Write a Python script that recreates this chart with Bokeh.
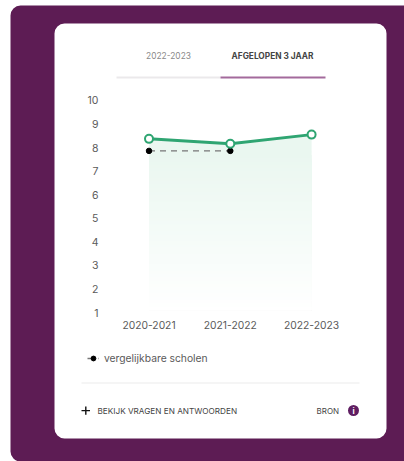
from bokeh.plotting import figure
from bokeh.embed import file_html
from bokeh.resources import INLINE
from bokeh.models import BoxAnnotation, Label, Legend, LegendItem, FixedTicker, Range1d, LinearAxis

years = ["2020-2021", "2021-2022", "2022-2023"]
school = [8.37, 8.16, 8.55]
similar = [7.86, 7.86]
y_ticks = [1, 2, 3, 4, 5, 6, 7, 8, 9, 10]

FONT = "Inter"
PURPLE = "#5d1c54"
GREEN = "#2fa572"
W, H = 404, 461
PX_X, PX_Y = 81.3, 23.56     # pixels per category / per score point
X0, Y1 = 148.5, 312.0        # picture position of the first category and of score 1

def dx(px):
    return (px - X0) / PX_X

def dy(py):
    return 1 + (Y1 - py) / PX_Y

xs = list(range(len(years)))
p = figure(width=W, height=H, output_backend="svg", toolbar_location=None,
           x_range=Range1d(dx(0), dx(W)), y_range=Range1d(dy(H), dy(0)),
           x_axis_location=None, y_axis_location=None,
           min_border=0, outline_line_color=None, background_fill_color="white", border_fill_color="white")
p.grid.visible = False

def box(l, t, r, b, color, radius=0):
    p.add_layout(BoxAnnotation(left=dx(l), right=dx(r), top=dy(t), bottom=dy(b),
                               fill_color=color, fill_alpha=1, line_color=None, level="underlay",
                               border_radius=radius, editable=False))

def label(x, y, text, size, color, align="left", style="normal"):
    p.add_layout(Label(x=dx(x), y=dy(y), text=text,
                       text_font=FONT, text_font_size=f"{size}px", text_color=color,
                       text_align=align, text_baseline="middle", text_font_style=style))

box(10, 5, 430, 461, PURPLE, 10)
box(54, 23, 386, 438, "white", 10)
box(116, 76, 220, 78, "#ebe9eb")
box(220, 76, 325, 78, "#a36a9c")
box(81, 382, 359, 383, "#ececec")
box(347.5, 404.5, 358.5, 415.5, "#5f1e62", 6)
box(81, 409.4, 89.5, 410.8, "#111111")
box(84.6, 405.9, 86, 414.3, "#111111")

label(168, 55, "2022-2023", 8.4, "#8a8a8a", "center")
label(272, 55, "AFGELOPEN 3 JAAR", 8.3, "#444444", "center", "bold")
label(97, 410, "BEKIJK VRAGEN EN ANTWOORDEN", 8.2, "#444444")
label(316, 410, "BRON", 8, "#444444")
label(353, 410, "i", 8, "white", "center", "bold")

# gradient under the school line
top_band = 7.8
bottom_band = 1.1
top_color = (0xea, 0xf7, 0xf0)
p.varea(x=xs, y1=[top_band] * 3, y2=school, fill_color="#eaf7f0")
steps = 48
for k in range(steps):
    f = 1 - k / steps
    t = bottom_band + (top_band + 0.02 - bottom_band) * f
    col = "#%02x%02x%02x" % tuple(round(a * f + 255 * (1 - f)) for a in top_color)
    p.quad(left=[xs[0]], right=[xs[-1]], bottom=[bottom_band], top=[t], fill_color=col, line_color=None)

dash = p.line(xs[:2], similar, line_color="#777777", line_width=1.4, line_dash="6 5")
dots = p.scatter(xs[:2], similar, size=5.5, fill_color="black", line_color="black")
p.line(xs, school, line_color=GREEN, line_width=3)
p.scatter(xs, school, size=8, fill_color="white", line_color=GREEN, line_width=2)

yax = LinearAxis(ticker=FixedTicker(ticks=y_ticks), fixed_location=dx(108))
xax = LinearAxis(ticker=FixedTicker(ticks=xs), fixed_location=1,
                 major_label_overrides={i: y for i, y in enumerate(years)})
for ax, size, standoff in ((xax, "10.3px", 2), (yax, "10.5px", 4)):
    ax.axis_line_color = None
    ax.major_tick_line_color = None
    ax.minor_tick_line_color = None
    ax.major_label_text_font = FONT
    ax.major_label_text_font_size = size
    ax.major_label_text_color = "#5a5a5a"
    ax.major_label_standoff = standoff
p.add_layout(yax, "left")
p.add_layout(xax, "below")

legend = Legend(items=[LegendItem(label="vergelijkbare scholen", renderers=[dash, dots])],
                location=(87, H - 364), border_line_color=None, background_fill_color=None,
                label_text_font=FONT, label_text_font_size="10.3px", label_text_color="#5a5a5a",
                glyph_width=12, glyph_height=12, padding=4, margin=0, label_standoff=5)
p.add_layout(legend, "center")

open("out.html", "w").write(file_html(p, INLINE))
